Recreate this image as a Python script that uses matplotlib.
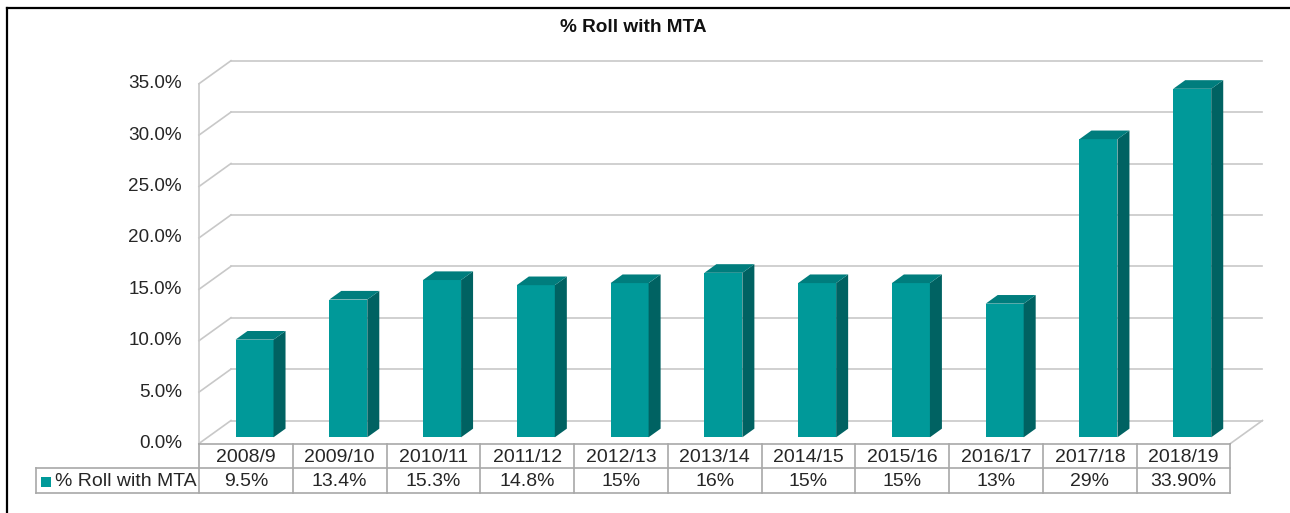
# Gráfico de columnas 3D con tabla de datos: % Roll with MTA por curso escolar

import matplotlib.pyplot as plt
from matplotlib.patches import Polygon, Rectangle

plt.rcParams['font.family'] = ['Liberation Sans', 'DejaVu Sans']

titulo = '% Roll with MTA'
serie = '% Roll with MTA'
categorias = ['2008/9', '2009/10', '2010/11', '2011/12', '2012/13', '2013/14',
              '2014/15', '2015/16', '2016/17', '2017/18', '2018/19']
valores = [9.5, 13.4, 15.3, 14.8, 15, 16, 15, 15, 13, 29, 33.9]
etiquetas_valores = ['9.5%', '13.4%', '15.3%', '14.8%', '15%', '16%',
                     '15%', '15%', '13%', '29%', '33.90%']
ticks_y = [0, 5, 10, 15, 20, 25, 30, 35]

# colores
c_frente = '#009999'
c_lado = '#006262'
c_arriba = '#007d7d'
c_rejilla = '#c8c8c8'
c_tabla = '#a8a8a8'
c_texto = '#262626'

# geometría en píxeles (figura 1290x513)
W, H = 1290, 513
x0_px, col_px = 199, 93.77      # inicio de la primera columna y ancho
y0_px, pct_px = 443.5, 10.28    # línea de 0% y píxeles por punto porcentual
DX = 32 / col_px                # profundidad 3D en unidades de columna
DY = 23 / pct_px                # profundidad 3D en unidades de %
d1, d2 = 0.27, 0.645            # profundidad de la cara frontal y trasera de cada barra
ancho_barra = 38 / col_px


def px(x, y):
    # convierte píxeles (origen arriba-izquierda) a coordenadas de datos
    return (x - x0_px) / col_px, (y0_px - y) / pct_px


fig = plt.figure(figsize=(W / 100, H / 100), dpi=100)
ax = fig.add_axes([0, 0, 1, 1])
ax.set_xlim(-x0_px / col_px, (W - x0_px) / col_px)
ax.set_ylim((y0_px - H) / pct_px, y0_px / pct_px)
ax.axis('off')

n = len(categorias)

# paredes y rejilla
for t in ticks_y:
    ax.plot([0, DX], [t, t + DY], color=c_rejilla, lw=1.2, zorder=1)
    ax.plot([DX, n + DX], [t + DY, t + DY], color=c_rejilla, lw=1.2, zorder=1)
    tx, _ = px(182, 0)
    ax.text(tx, t, f'{t:.1f}%', ha='right', va='center', fontsize=13.6, color=c_texto)
ax.plot([0, 0], [0, ticks_y[-1]], color=c_rejilla, lw=1.2, zorder=1)
ax.plot([n, n + DX], [0, DY], color=c_rejilla, lw=1.2, zorder=1)

# barras 3D
ddx, ddy = (d2 - d1) * DX, (d2 - d1) * DY
for i, v in enumerate(valores):
    xf = i + 0.5 - ancho_barra / 2 + d1 * DX
    yb = d1 * DY
    ax.add_patch(Rectangle((xf, yb), ancho_barra, v, facecolor=c_frente,
                           edgecolor='none', zorder=3))
    ax.add_patch(Polygon([(xf + ancho_barra, yb), (xf + ancho_barra + ddx, yb + ddy),
                          (xf + ancho_barra + ddx, yb + ddy + v), (xf + ancho_barra, yb + v)],
                         closed=True, facecolor=c_lado, edgecolor='none', zorder=3))
    ax.add_patch(Polygon([(xf, yb + v), (xf + ddx, yb + v + ddy),
                          (xf + ancho_barra + ddx, yb + v + ddy), (xf + ancho_barra, yb + v)],
                         closed=True, facecolor=c_arriba, edgecolor='none', zorder=3))

# tabla de datos
_, y_fila1 = px(0, 468)
_, y_fila2 = px(0, 493)
x_etiq, _ = px(36, 0)
ax.plot([0, n], [0, 0], color=c_tabla, lw=1.2, zorder=2)
ax.plot([x_etiq, n], [y_fila1, y_fila1], color=c_tabla, lw=1.2)
ax.plot([x_etiq, n], [y_fila2, y_fila2], color=c_tabla, lw=1.2)
ax.plot([x_etiq, x_etiq], [y_fila1, y_fila2], color=c_tabla, lw=1.2)
for i in range(n + 1):
    ax.plot([i, i], [0, y_fila2], color=c_tabla, lw=1.2)
_, y_t1 = px(0, 457)
_, y_t2 = px(0, 482)
for i, (cat, et) in enumerate(zip(categorias, etiquetas_valores)):
    ax.text(i + 0.5, y_t1, cat, ha='center', va='center', fontsize=14, color=c_texto)
    ax.text(i + 0.5, y_t2, et, ha='center', va='center', fontsize=14, color=c_texto)

# clave de la serie
kx, ky = px(41, 487)
ax.add_patch(Rectangle((kx, ky), 10 / col_px, 10 / pct_px, facecolor=c_frente, edgecolor='none'))
lx, _ = px(55, 0)
ax.text(lx, y_t2, serie, ha='left', va='center', fontsize=14, color=c_texto)

# título
fig.text(633.7 / W, 1 - 28 / H, titulo, ha='center', va='center',
         fontsize=13.7, fontweight='bold', color='#111111')

# marco (borde superior e izquierdo)
fig.add_artist(plt.Line2D([6.5 / W, 6.5 / W], [0, 1 - 8 / H], color='black', lw=1.6))
fig.add_artist(plt.Line2D([6.5 / W, 1], [1 - 8 / H, 1 - 8 / H], color='black', lw=1.6))

fig.savefig('out.png', dpi=100)
